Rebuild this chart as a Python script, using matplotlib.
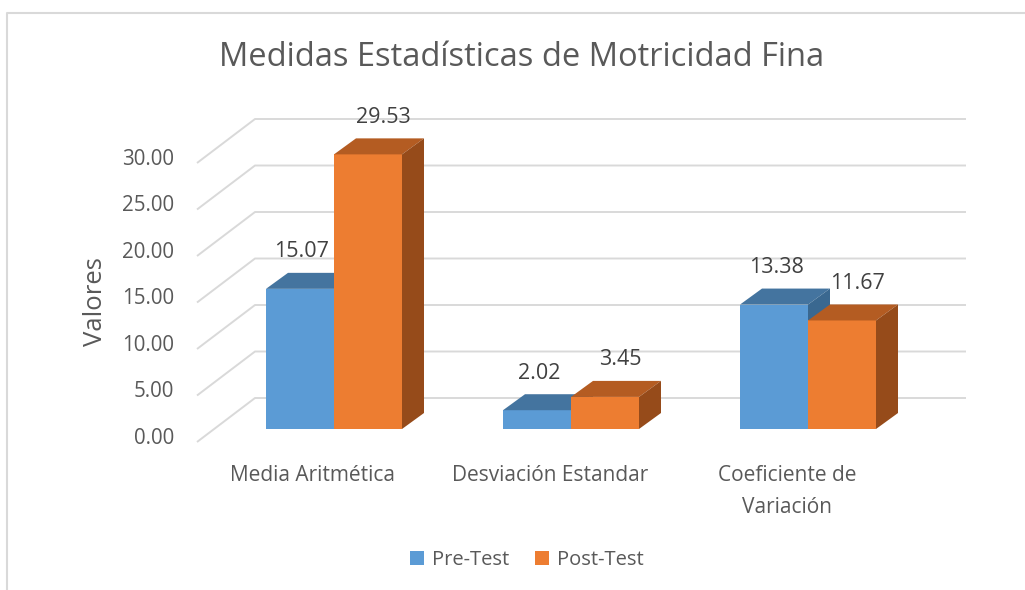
import matplotlib
matplotlib.use('Agg')
import matplotlib.pyplot as plt
from matplotlib.patches import Polygon
from matplotlib.lines import Line2D

plt.rcParams['font.family'] = ['Open Sans', 'DejaVu Sans']

# data
categories = ['Media Aritmética', 'Desviación Estandar', 'Coeficiente de\nVariación']
pre_test = [15.07, 2.02, 13.38]
post_test = [29.53, 3.45, 11.67]
series_names = ['Pre-Test', 'Post-Test']
ticks = [0, 5, 10, 15, 20, 25, 30]

# colours (front, top, side) like excel's 3d columns
pre_cols = ['#5b9bd5', '#44749f', '#3a6890']
post_cols = ['#ed7d31', '#b45c22', '#964b1a']
grid_col = '#d9d9d9'
text_col = '#595959'

# pixel scale of the picture: px per category step, px per value unit
PX_X = 237.0
PX_Y = 9.3
W = 68 / PX_X                      # bar width
DX, DY = 22 / PX_X, 16 / PX_Y      # bar depth
wall_front_x, wall_back_x, grid_end_x = -137 / PX_X, -79 / PX_X, 632 / PX_X
wall_front_dy, wall_back_dy = -13 / PX_Y, 31 / PX_Y

fig = plt.figure(figsize=(10.25, 5.9), dpi=100)
ax = fig.add_axes([0, 0, 1, 1])
ax.set_xlim(-334 / PX_X, (1025 - 334) / PX_X)
ax.set_ylim((429 - 590) / PX_Y, 429 / PX_Y)
ax.axis('off')

# gridlines: diagonal on the side wall, then flat on the back wall
for t in ticks:
    ax.plot([wall_front_x, wall_back_x, grid_end_x],
            [t + wall_front_dy, t + wall_back_dy, t + wall_back_dy],
            color=grid_col, lw=1.4, zorder=1, solid_capstyle='butt')
    ax.text(-160 / PX_X, t - 1.0, f'{t:.2f}', ha='right', va='center',
            fontsize=14.8, color=text_col)

def draw_bars(xs, vals, cols, z):
    bars = ax.bar(xs, vals, width=W, align='edge', color=cols[0],
                  linewidth=0, zorder=z)
    for x0, h in zip(xs, vals):
        top = [(x0, h), (x0 + W, h), (x0 + W + DX, h + DY), (x0 + DX, h + DY)]
        side = [(x0 + W, 0), (x0 + W, h), (x0 + W + DX, h + DY), (x0 + W + DX, DY)]
        ax.add_patch(Polygon(top, closed=True, color=cols[1], lw=0, zorder=z))
        ax.add_patch(Polygon(side, closed=True, color=cols[2], lw=0, zorder=z))
    return bars

idx = list(range(len(categories)))
b1 = draw_bars([i - W for i in idx], pre_test, pre_cols, 2)
b2 = draw_bars([i for i in idx], post_test, post_cols, 3)

# value labels
for i in idx:
    ax.text(i - W / 2 + 2 / PX_X, pre_test[i] + 37 / PX_Y, f'{pre_test[i]:.2f}',
            ha='center', va='center', fontsize=15.5, color='#404040', zorder=5)
    ax.text(i + W / 2 + 15 / PX_X, post_test[i] + 37 / PX_Y, f'{post_test[i]:.2f}',
            ha='center', va='center', fontsize=15.5, color='#404040', zorder=5)

# category labels
for i, c in enumerate(categories):
    ax.text(i - 21 / PX_X, -3.85, c, ha='center', va='top', fontsize=15,
            color=text_col, linespacing=1.7)

# title, axis label
fig.text(522 / 1025, 1 - 57 / 590, 'Medidas Estadísticas de Motricidad Fina',
         ha='center', va='center', fontsize=23.5, color=text_col)
fig.text(95 / 1025, 1 - 302 / 590, 'Valores', rotation=90, ha='center',
         va='center', fontsize=18.5, color=text_col)

# legend
fig.legend([b1, b2], series_names, loc='center', bbox_to_anchor=(0.514, 1 - 560 / 590),
           ncol=2, frameon=False, fontsize=14.5, handlelength=0.7, handleheight=0.7,
           handletextpad=0.4, columnspacing=1.3, labelcolor=text_col)

# chart border (left and top edges are visible)
fig.add_artist(Line2D([7 / 1025, 7 / 1025, 1.0], [0.0, 1 - 13 / 590, 1 - 13 / 590],
                      transform=fig.transFigure, color='#d9d9d9', lw=1.5))

fig.savefig('out.png', dpi=100, facecolor='white')
